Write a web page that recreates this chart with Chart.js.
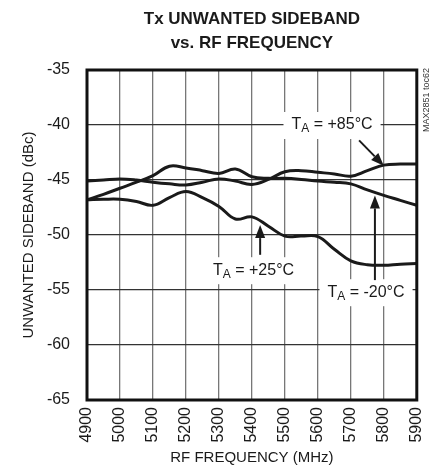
<!DOCTYPE html>
<html>
<head>
<meta charset="utf-8">
<script src="https://cdn.jsdelivr.net/npm/chart.js@4.4.1/dist/chart.umd.min.js"></script>
<style>
  html, body { margin: 0; padding: 0; background: #fff; }
  #wrap { width: 443px; height: 473px; }
</style>
</head>
<body>
<div id="wrap"><canvas id="chart" width="443" height="473"></canvas></div>
<script>
// RF frequency (MHz)
var freqs = [4900, 4950, 5000, 5050, 5100, 5150, 5200, 5250, 5300, 5350, 5400,
             5450, 5500, 5550, 5600, 5650, 5700, 5750, 5800, 5850, 5900];

// unwanted sideband (dBc) per ambient temperature
var ta85 = [-45.1, -45.0, -44.9, -45.0, -45.2, -45.35, -45.45, -45.2, -44.9, -45.1, -45.4,
            -44.95, -44.25, -44.15, -44.3, -44.45, -44.65, -44.15, -43.65, -43.55, -43.55];
var ta25 = [-46.8, -46.75, -46.75, -46.95, -47.3, -46.6, -46.05, -46.6, -47.4, -48.55, -48.35,
            -49.2, -50.1, -50.1, -50.15, -51.3, -52.35, -52.7, -52.75, -52.65, -52.6];
var taM20 = [-46.8, -46.3, -45.75, -45.2, -44.6, -43.75, -43.9, -44.15, -44.4, -44.0, -44.7,
             -44.85, -44.85, -44.95, -45.1, -45.2, -45.35, -45.9, -46.4, -46.85, -47.3];

var xTicks = [4900, 5000, 5100, 5200, 5300, 5400, 5500, 5600, 5700, 5800, 5900];
var yTicks = [-65, -60, -55, -50, -45, -40, -35];

var titleLines = ['Tx UNWANTED SIDEBAND', 'vs. RF FREQUENCY'];

// callouts, anchored in data units: label centre, arrow tail, arrow tip
var callouts = [
  { sub: 'A', text: ' = +85°C', at: [5643, -40.0], from: [5725, -41.4], to: [5800, -43.7] },
  { sub: 'A', text: ' = +25°C', at: [5405, -53.2], from: [5425, -51.8], to: [5425, -49.1] },
  { sub: 'A', text: ' = -20°C', at: [5746, -55.2], from: [5773, -54.1], to: [5773, -46.4] }
];

var FONT = '"Liberation Sans", Arial, sans-serif';

function pts(ys) {
  return freqs.map(function(f, i) { return { x: f, y: ys[i] }; });
}

function line(label, ys) {
  return {
    label: label,
    data: pts(ys),
    borderColor: '#1a1a1a',
    borderWidth: 3,
    pointRadius: 0,
    tension: 0.4,
    fill: false
  };
}

var decor = {
  id: 'decor',
  afterDatasetsDraw: function(chart) {
    var ctx = chart.ctx, a = chart.chartArea;
    var xs = chart.scales.x, ys = chart.scales.y;

    ctx.save();
    // frame
    ctx.strokeStyle = '#111';
    ctx.lineWidth = 3;
    ctx.strokeRect(a.left, a.top, a.right - a.left, a.bottom - a.top);

    // title, centred over the plot
    ctx.fillStyle = '#1a1a1a';
    ctx.textAlign = 'center';
    ctx.textBaseline = 'middle';
    ctx.font = 'bold 17px ' + FONT;
    titleLines.forEach(function(t, i) {
      ctx.fillText(t, (a.left + a.right) / 2, 19 + i * 24.5);
    });

    callouts.forEach(function(c) {
      var cx = xs.getPixelForValue(c.at[0]), cy = ys.getPixelForValue(c.at[1]);
      ctx.font = '16px ' + FONT;
      var wT = ctx.measureText('T').width, wR = ctx.measureText(c.text).width;
      ctx.font = '12px ' + FONT;
      var wS = ctx.measureText(c.sub).width;
      var w = wT + wS + wR;

      ctx.fillStyle = '#fff';
      ctx.fillRect(cx - w / 2 - 8, cy - 13, w + 16, 27);

      ctx.fillStyle = '#1a1a1a';
      ctx.textBaseline = 'middle';
      ctx.textAlign = 'left';
      var x0 = cx - w / 2;
      ctx.font = '16px ' + FONT;
      ctx.fillText('T', x0, cy);
      ctx.font = '12px ' + FONT;
      ctx.fillText(c.sub, x0 + wT, cy + 4);
      ctx.font = '16px ' + FONT;
      ctx.fillText(c.text, x0 + wT + wS, cy);

      // arrow
      var x1 = xs.getPixelForValue(c.from[0]), y1 = ys.getPixelForValue(c.from[1]);
      var x2 = xs.getPixelForValue(c.to[0]), y2 = ys.getPixelForValue(c.to[1]);
      var ang = Math.atan2(y2 - y1, x2 - x1), hl = 13, hw = 5;
      var bx = x2 - hl * Math.cos(ang), by = y2 - hl * Math.sin(ang);
      ctx.strokeStyle = '#1a1a1a';
      ctx.lineWidth = 2;
      ctx.beginPath();
      ctx.moveTo(x1, y1);
      ctx.lineTo(bx, by);
      ctx.stroke();
      ctx.beginPath();
      ctx.moveTo(x2, y2);
      ctx.lineTo(bx + hw * Math.sin(ang), by - hw * Math.cos(ang));
      ctx.lineTo(bx - hw * Math.sin(ang), by + hw * Math.cos(ang));
      ctx.closePath();
      ctx.fill();
    });

    // part number tag on the right
    ctx.translate(a.right + 10, a.top + 30);
    ctx.rotate(-Math.PI / 2);
    ctx.font = '9px ' + FONT;
    ctx.fillStyle = '#333';
    ctx.textAlign = 'center';
    ctx.textBaseline = 'middle';
    ctx.fillText('MAX2851 toc62', 0, 0);
    ctx.restore();
  }
};

new Chart(document.getElementById('chart').getContext('2d'), {
  type: 'line',
  data: {
    datasets: [line('TA = +85°C', ta85), line('TA = +25°C', ta25), line('TA = -20°C', taM20)]
  },
  options: {
    responsive: false,
    animation: false,
    layout: { padding: { left: 0, right: 25, top: 70, bottom: 0 } },
    plugins: {
      legend: { display: false },
      tooltip: { enabled: false },
      title: { display: false }
    },
    scales: {
      x: {
        type: 'linear',
        min: 4900,
        max: 5900,
        afterBuildTicks: function(s) { s.ticks = xTicks.map(function(v) { return { value: v }; }); },
        afterFit: function(s) { s.height = 73; },
        border: { display: false },
        grid: { color: '#777', lineWidth: 1.3, drawTicks: false },
        ticks: {
          color: '#1a1a1a',
          font: { family: FONT, size: 16 },
          minRotation: 90,
          maxRotation: 90,
          padding: 7,
          callback: function(v) { return String(v); }
        },
        title: {
          display: true,
          text: 'RF FREQUENCY (MHz)',
          color: '#1a1a1a',
          font: { family: FONT, size: 15 },
          padding: { top: 4, bottom: 6 }
        }
      },
      y: {
        min: -65,
        max: -35,
        afterBuildTicks: function(s) { s.ticks = yTicks.map(function(v) { return { value: v }; }); },
        afterFit: function(s) { s.width = 87; },
        border: { display: false },
        grid: { color: '#333', lineWidth: 1.3, drawTicks: false },
        ticks: {
          color: '#1a1a1a',
          font: { family: FONT, size: 16 },
          padding: 17,
          callback: function(v) { return String(v); }
        },
        title: {
          display: true,
          text: 'UNWANTED SIDEBAND (dBc)',
          color: '#1a1a1a',
          font: { family: FONT, size: 15 },
          padding: { top: 20, bottom: 0 }
        }
      }
    }
  },
  plugins: [decor]
});
</script>
</body>
</html>
